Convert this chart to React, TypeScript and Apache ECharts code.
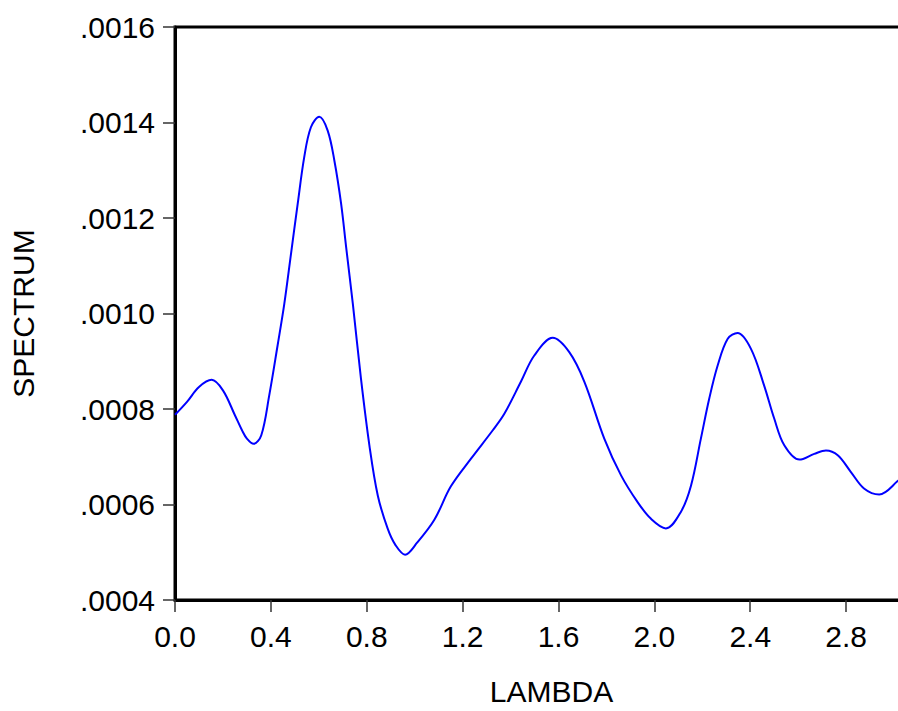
import React, { useEffect, useRef } from "react";
import * as echarts from "echarts";

const lambda = [
  0.0, 0.05, 0.1, 0.153, 0.2, 0.25, 0.28, 0.3, 0.328, 0.36, 0.393, 0.428, 0.456, 0.484, 0.512,
  0.539, 0.567, 0.602, 0.637, 0.665, 0.693, 0.714, 0.742, 0.776, 0.811, 0.846, 0.887, 0.92, 0.96,
  1.01, 1.082, 1.151, 1.235, 1.325, 1.374, 1.443, 1.499, 1.576, 1.645, 1.708, 1.791, 1.861, 1.93,
  1.986, 2.048, 2.111, 2.153, 2.194, 2.229, 2.264, 2.306, 2.347, 2.403, 2.458, 2.5, 2.542, 2.605,
  2.667, 2.716, 2.765, 2.82, 2.876, 2.938, 3.015, 3.06,
];

const spectrum = [
  0.000788, 0.000815, 0.000846, 0.000861, 0.000839, 0.000787, 0.000755, 0.000738, 0.000727,
  0.000745, 0.000828, 0.000933, 0.00102, 0.001125, 0.00123, 0.001327, 0.00139, 0.001412, 0.001383,
  0.00132, 0.00123, 0.001139, 0.00102, 0.000863, 0.000724, 0.000619, 0.00055, 0.000515, 0.000495,
  0.00052, 0.000568, 0.000638, 0.000696, 0.000755, 0.00079, 0.000857, 0.000912, 0.000949,
  0.000919, 0.000857, 0.000738, 0.000661, 0.000605, 0.00057, 0.00055, 0.000585, 0.00064, 0.000738,
  0.000822, 0.000891, 0.000947, 0.000959, 0.000926, 0.000849, 0.00078, 0.000724, 0.000694,
  0.000706, 0.000713, 0.000703, 0.000668, 0.000633, 0.000621, 0.000649, 0.000672,
];

const xTickStep = 0.4;
const yTickStep = 0.0002;
const yMin = 0.0004;
const yMax = 0.0016;
const xMax = Math.PI;

const FONT = "'Liberation Sans', Arial, sans-serif";

export default function App() {
  const ref = useRef<HTMLDivElement>(null);

  useEffect(() => {
    if (!ref.current) return;
    const chart = echarts.init(ref.current, undefined, { renderer: "svg" });
    const data = lambda.map((l, i) => [l, spectrum[i]]);
    chart.setOption({
      animation: false,
      backgroundColor: "#ffffff",
      grid: {
        left: 173,
        top: 27,
        width: 755,
        height: 576,
        show: true,
        borderColor: "#000",
        borderWidth: 3,
        backgroundColor: "transparent",
      },
      xAxis: {
        type: "value",
        min: 0,
        max: xMax,
        interval: xTickStep,
        name: "LAMBDA",
        nameLocation: "middle",
        nameGap: 76,
        nameTextStyle: { fontFamily: FONT, fontSize: 30, color: "#000" },
        axisLine: { show: true, lineStyle: { color: "#000", width: 3 } },
        axisTick: { show: true, inside: false, length: 12, lineStyle: { color: "#333", width: 1.5 } },
        axisLabel: {
          show: true,
          showMaxLabel: false,
          margin: 21,
          fontFamily: FONT,
          fontSize: 30,
          color: "#000",
          formatter: (v: number) => v.toFixed(1),
        },
        splitLine: { show: false },
      },
      yAxis: {
        type: "value",
        min: yMin,
        max: yMax,
        interval: yTickStep,
        name: "SPECTRUM",
        nameLocation: "middle",
        nameGap: 137,
        nameTextStyle: { fontFamily: FONT, fontSize: 30, color: "#000" },
        axisLine: { show: true, lineStyle: { color: "#000", width: 3 } },
        axisTick: { show: true, inside: false, length: 12, lineStyle: { color: "#333", width: 1.5 } },
        axisLabel: {
          show: true,
          margin: 20,
          fontFamily: FONT,
          fontSize: 30,
          color: "#000",
          formatter: (v: number) => v.toFixed(4).replace(/^0/, ""),
        },
        splitLine: { show: false },
      },
      series: [
        {
          type: "line",
          data,
          smooth: 0.35,
          showSymbol: false,
          symbol: "none",
          lineStyle: { color: "#0000ff", width: 2 },
          clip: true,
        },
      ],
    });
    return () => chart.dispose();
  }, []);

  return (
    <div
      style={{
        position: "absolute",
        left: 0,
        top: 0,
        width: 898,
        height: 711,
        overflow: "hidden",
        background: "#fff",
      }}
    >
      <div ref={ref} style={{ width: 970, height: 711 }} />
    </div>
  );
}
